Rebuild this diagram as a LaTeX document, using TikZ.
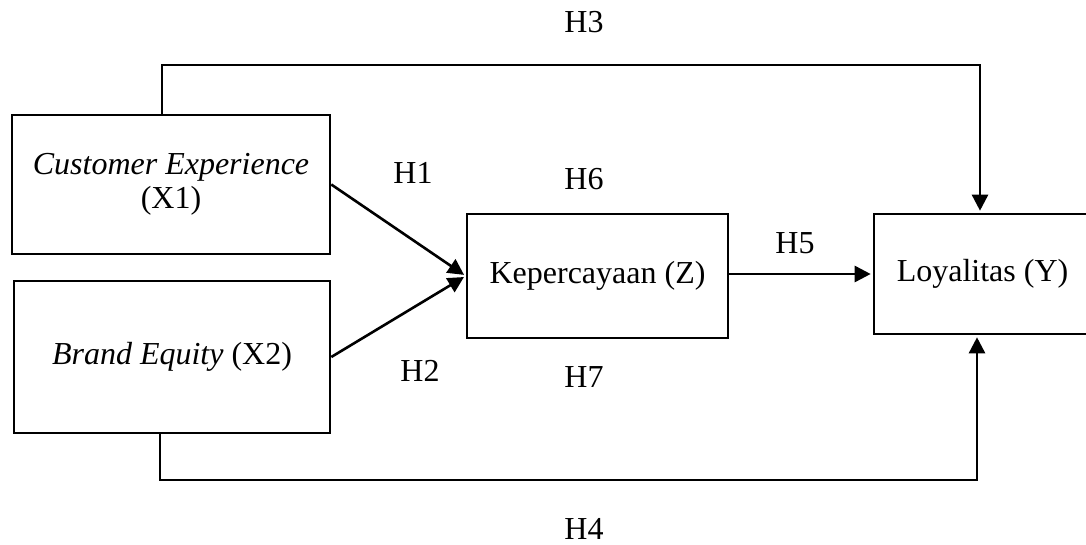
\documentclass[tikz,border=0pt]{standalone}
\usepackage{fontspec}
\setmainfont{Liberation Serif}
\usetikzlibrary{positioning, arrows.meta}

\begin{document}
\begin{tikzpicture}[x=0.5pt,y=-0.5pt,line width=1.3pt,shorten >=1pt,
    font=\fontsize{16}{17}\selectfont,
    var/.style={draw,rectangle,align=center,inner sep=0pt},
    arr/.style={-{Triangle[length=8pt,width=8pt]}},
    hyp/.style={inner sep=0pt}]
   \useasboundingbox (0,0) rectangle (1086,545);

   \node[var,minimum width=159pt,minimum height=69.5pt] (x1) at (171,184.5) {\textit{Customer Experience}\\(X1)};
   \node[var,minimum width=158pt,minimum height=76pt] (x2) at (172,357) {\textit{Brand Equity} (X2)};
   \node[var,minimum width=130.5pt,minimum height=62pt] (z) at (597.5,276) {Kepercayaan (Z)};
   \node[var,minimum width=108.5pt,minimum height=60pt] (y) at (982.5,274) {Loyalitas (Y)};

   \coordinate (topL) at (162,65);
   \coordinate (topR) at (980,65);
   \coordinate (botL) at (160,480);
   \coordinate (botR) at (977,480);

   \node[hyp] (h3) at (584,22) {H3};
   \node[hyp] (h1) at (413,173) {H1};
   \node[hyp] (h6) at (584,179) {H6};
   \node[hyp] (h5) at (795,243) {H5};
   \node[hyp] (h2) at (420,371) {H2};
   \node[hyp] (h7) at (584,377) {H7};
   \node[hyp] (h4) at (584,529) {H4};

   \draw[arr] (x1.east) -- (z.west);
   \draw[arr] (x2.east) -- (z.west);
   \draw[arr] (z.east |- y.west) -- (y.west);
   \draw[arr] (x1.north -| topL) -- (topL) -- (topR) -- (y.north -| topR);
   \draw[arr] (x2.south -| botL) -- (botL) -- (botR) -- (y.south -| botR);
\end{tikzpicture}
\end{document}
